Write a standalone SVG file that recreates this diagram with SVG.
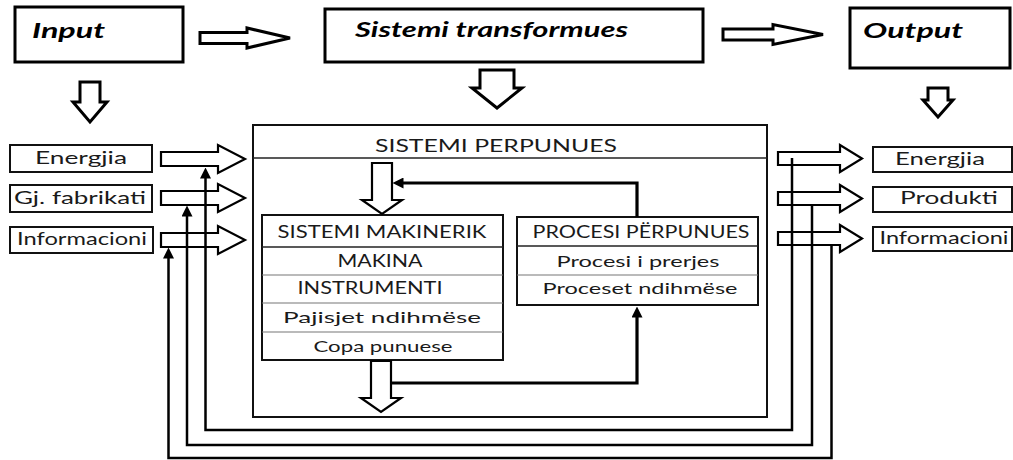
<svg xmlns="http://www.w3.org/2000/svg" width="1013" height="460" viewBox="0 0 1013 460">
<defs>
<style>
.bg{fill:#ffffff}
.topbox{fill:#fff;stroke:#000;stroke-width:3}
.box{fill:#fff;stroke:#111;stroke-width:2}
.hollow{fill:#fff;stroke:#000;stroke-width:2.2;stroke-linejoin:miter}
.hollow3{fill:#fff;stroke:#000;stroke-width:3;stroke-linejoin:miter}
.div{stroke:#777;stroke-width:1.2}
.divd{stroke:#222;stroke-width:1.6}
.fb{fill:none;stroke:#000;stroke-width:2.5}
.fb3{fill:none;stroke:#000;stroke-width:3.2}
.ti{font-family:Lato,"Liberation Sans",sans-serif;font-style:italic;font-weight:700;font-size:20px;fill:#000}
.t{font-family:Lato,"Liberation Sans",sans-serif;font-size:17px;fill:#1a1a1a;text-anchor:middle}
.ts{font-family:Lato,"Liberation Sans",sans-serif;font-size:16px;fill:#1a1a1a;text-anchor:middle}
</style>
<marker id="ah" viewBox="0 0 10 10" refX="5" refY="5" markerWidth="11" markerHeight="11" markerUnits="userSpaceOnUse" orient="auto">
<path d="M0,0 L10,5 L0,10 z" fill="#000"/>
</marker>
</defs>
<rect class="bg" x="0" y="0" width="1013" height="460"/>

<g id="input">
<rect class="topbox" x="15" y="7" width="168" height="55"/>
<text class="ti" x="32" y="38" textLength="73" lengthAdjust="spacingAndGlyphs">Input</text>
</g>
<g id="sistemi-transformues">
<rect class="topbox" x="325" y="9" width="378" height="53"/>
<text class="ti" x="355" y="37" textLength="273" lengthAdjust="spacingAndGlyphs">Sistemi transformues</text>
</g>
<g id="output">
<rect class="topbox" x="850" y="8" width="160" height="60"/>
<text class="ti" x="863" y="38" textLength="100" lengthAdjust="spacingAndGlyphs">Output</text>
</g>

<g id="input-energjia">
<rect class="box" x="10" y="145" width="142" height="27"/>
<text class="t" x="81" y="164" textLength="92" lengthAdjust="spacingAndGlyphs">Energjia</text>
</g>
<g id="input-fabrikati">
<rect class="box" x="10" y="185" width="142" height="27"/>
<text class="t" x="80" y="204" textLength="132" lengthAdjust="spacingAndGlyphs">Gj. fabrikati</text>
</g>
<g id="input-informacioni">
<rect class="box" x="10" y="227" width="143" height="26"/>
<text class="t" x="82" y="245" textLength="130" lengthAdjust="spacingAndGlyphs">Informacioni</text>
</g>

<g id="output-energjia">
<rect class="box" x="873" y="147" width="139" height="25"/>
<text class="t" x="940" y="165" textLength="90" lengthAdjust="spacingAndGlyphs">Energjia</text>
</g>
<g id="output-produkti">
<rect class="box" x="873" y="187" width="139" height="25"/>
<text class="t" x="949" y="204" textLength="98" lengthAdjust="spacingAndGlyphs">Produkti</text>
</g>
<g id="output-informacioni">
<rect class="box" x="873" y="227" width="139" height="24"/>
<text class="t" x="944" y="244" textLength="129" lengthAdjust="spacingAndGlyphs">Informacioni</text>
</g>

<g id="sistemi-perpunues">
<rect class="box" x="253" y="125" width="514" height="292"/>
<line class="divd" x1="253" y1="158" x2="767" y2="158"/>
<text class="t" x="496" y="152" textLength="242" lengthAdjust="spacingAndGlyphs">SISTEMI PERPUNUES</text>
</g>

<g id="sistemi-makinerik">
<rect class="box" x="262" y="215" width="241" height="145"/>
<line class="divd" x1="262" y1="247" x2="503" y2="247"/>
<line class="div" x1="262" y1="275" x2="503" y2="275"/>
<line class="div" x1="262" y1="303" x2="503" y2="303"/>
<line class="div" x1="262" y1="332" x2="503" y2="332"/>
<text class="t" x="382" y="238" textLength="209" lengthAdjust="spacingAndGlyphs">SISTEMI MAKINERIK</text>
<text class="t" x="380" y="267" textLength="85" lengthAdjust="spacingAndGlyphs">MAKINA</text>
<text class="t" x="370" y="294" textLength="145" lengthAdjust="spacingAndGlyphs">INSTRUMENTI</text>
<text class="ts" x="382" y="323" textLength="198" lengthAdjust="spacingAndGlyphs">Pajisjet ndihmëse</text>
<text class="ts" x="383" y="352" textLength="139" lengthAdjust="spacingAndGlyphs">Copa punuese</text>
</g>

<g id="procesi-perpunues">
<rect class="box" x="517" y="217" width="241" height="88"/>
<line class="divd" x1="517" y1="246" x2="758" y2="246"/>
<line class="div" x1="517" y1="275" x2="758" y2="275"/>
<text class="t" x="641" y="238" textLength="217" lengthAdjust="spacingAndGlyphs">PROCESI PËRPUNUES</text>
<text class="ts" x="638" y="267" textLength="163" lengthAdjust="spacingAndGlyphs">Procesi i prerjes</text>
<text class="ts" x="640" y="294" textLength="195" lengthAdjust="spacingAndGlyphs">Proceset ndihmëse</text>
</g>

<g id="connectors">
<!-- top horizontal hollow arrows -->
<path class="hollow3" d="M200,32.5 H247 V28 L290,38 L247,48 V43.5 H200 Z"/>
<path class="hollow3" d="M723,29 H773 V24.5 L823,34.5 L773,44.5 V40 H723 Z"/>
<!-- top down hollow arrows -->
<path class="hollow3" d="M80,82 H100 V102 H107 L90,122 L73,102 H80 Z"/>
<path class="hollow3" d="M480,70 H514 V88 H522 L497,108 L472,88 H480 Z"/>
<path class="hollow3" d="M928,88 H948 V100 H953 L938,117 L923,100 H928 Z"/>
<!-- left input hollow arrows -->
<path class="hollow" d="M161,152 H218 V145 L245,159 L218,173 V166 H161 Z"/>
<path class="hollow" d="M161,191 H218 V184 L245,198 L218,212 V205 H161 Z"/>
<path class="hollow" d="M161,233 H218 V226 L245,240 L218,254 V247 H161 Z"/>
<!-- right output hollow arrows -->
<path class="hollow" d="M778,152 H840 V145 L862,158.5 L840,172 V165 H778 Z"/>
<path class="hollow" d="M778,192 H840 V185 L862,198.5 L840,212 V205 H778 Z"/>
<path class="hollow" d="M778,232 H840 V225 L862,238.5 L840,252 V245 H778 Z"/>
<!-- inner hollow arrows -->
<path class="hollow" d="M372,163 H392 V200 H402 L382,214 L362,200 H372 Z"/>
<path class="hollow" d="M371,361 H391 V398 H401 L381,412 L361,398 H371 Z"/>
<!-- inner feedback lines -->
<path class="fb3" d="M637,217 V183 H398" marker-end="url(#ah)"/>
<path class="fb3" d="M391,383 H637 V312" marker-end="url(#ah)"/>
<!-- outer feedback loops -->
<path class="fb" d="M792,158 V430 H205.5 V173" marker-end="url(#ah)"/>
<path class="fb" d="M812,205 V445 H187 V211" marker-end="url(#ah)"/>
<path class="fb" d="M831.5,246 V458 H168.5 V253" marker-end="url(#ah)"/>
</g>
</svg>
